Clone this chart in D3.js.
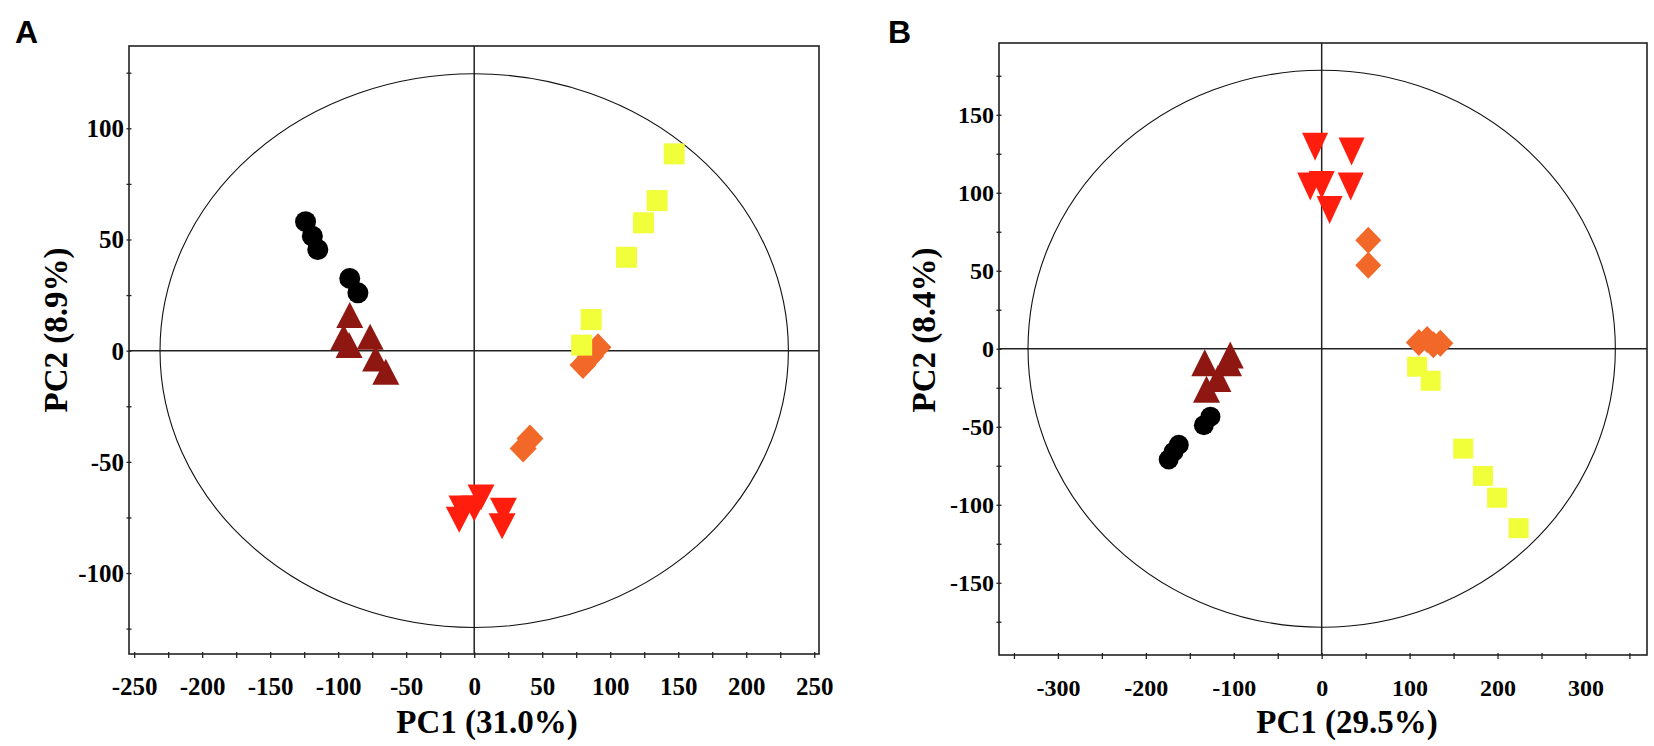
<!DOCTYPE html>
<html>
<head>
<meta charset="utf-8">
<script src="https://cdn.jsdelivr.net/npm/d3@7"></script>
<style>
  body { margin: 0; background: #fff; }
  text { font-family: "Liberation Serif", "Times New Roman", serif; font-weight: bold; }
</style>
</head>
<body>
<script>
// ---- panel A (PC1 31.0%, PC2 8.9%) ----
const circlesA = [[-124, 58], [-119, 51.5], [-115, 45.5], [-91.5, 32.5], [-85.5, 26]];
const upTriA = [[-91.5, 16], [-96, 6], [-92, 2.6], [-76.5, 6.3], [-72.5, -3.5], [-65, -9.5]];
const downTriA = [[-9, -71], [-11, -76], [0, -71], [5, -66], [21.5, -72], [20.5, -79]];
const diamondsA = [[91, 1.5], [85.5, -2.5], [80, -6.5], [41, -39.5], [36, -44]];
const squaresA = [[147, 88.5], [134.5, 67.5], [124.5, 57.5], [112, 42], [86, 14], [79, 2.5]];
const ellipseA = [231, 124.5];
const xMajorA = [-250, -200, -150, -100, -50, 0, 50, 100, 150, 200, 250];
const xMinorA = [-225, -175, -125, -75, -25, 25, 75, 125, 175, 225];
const yMajorA = [-100, -50, 0, 50, 100];
const yMinorA = [-125, -75, -25, 25, 75, 125];

// ---- panel B (PC1 29.5%, PC2 8.4%) ----
const circlesB = [[-126.5, -43.5], [-134, -49], [-162.5, -61.5], [-168.5, -66], [-174, -71]];
const upTriB = [[-133, -9], [-104, -4], [-106, -9], [-118, -19], [-131, -26]];
const downTriB = [[-7.5, 129.5], [34, 126.5], [-13, 104], [0, 105], [33, 104], [9, 89]];
const diamondsB = [[53, 69.5], [53, 53.5], [110.5, 4], [120, 6], [127, 2.5], [135, 3.5]];
const squaresB = [[108.5, -11.5], [124, -20.5], [161, -64], [183.5, -81.5], [199.5, -95.5], [224, -115]];
const ellipseB = [334, 178.5];
const xMajorB = [-300, -200, -100, 0, 100, 200, 300];
const xMinorB = [-350, -250, -150, -50, 50, 150, 250, 350];
const yMajorB = [-150, -100, -50, 0, 50, 100, 150];
const yMinorB = [-175, -125, -75, -25, 25, 75, 125, 175];

const colors = {
  circle: "#000000",
  up: "#8E1811",
  down: "#FF1E0E",
  diamond: "#F26828",
  square: "#F0FF3A"
};

const svg = d3.select("body").append("svg")
  .attr("width", 1654)
  .attr("height", 746);

const fmt = d => d < 0 ? "-" + Math.abs(d) : String(d);

// marker outlines, centred on the point
function markerPath(shape, w, h) {
  if (shape === "square") return `M${-w/2},${-h/2}h${w}v${h}h${-w}Z`;
  if (shape === "up") return `M0,${-h/2}L${w/2},${h/2}L${-w/2},${h/2}Z`;
  if (shape === "down") return `M0,${h/2}L${w/2},${-h/2}L${-w/2},${-h/2}Z`;
  if (shape === "diamond") return `M0,${-h/2}L${w/2},0L0,${h/2}L${-w/2},0Z`;
  return "";
}

function drawPanel(p) {
  let x = d3.scaleLinear().domain(p.xDomain).range([p.left, p.right]);
  let y = d3.scaleLinear().domain(p.yDomain).range([p.bottom, p.top]);
  let g = svg.append("g");

  // panel letter
  g.append("text")
    .attr("x", p.letterX)
    .attr("y", 43)
    .style("font-family", "'Liberation Sans', Arial, sans-serif")
    .style("font-size", "32px")
    .text(p.letter);

  // x axis
  let xAxis = d3.axisBottom(x)
    .tickValues(p.xMajor.concat(p.xMinor))
    .tickSize(3)
    .tickFormat(d => p.xMajor.includes(d) ? fmt(d) : "");
  let gx = g.append("g")
    .attr("transform", `translate(0,${p.bottom})`)
    .call(xAxis);
  gx.select(".domain").remove();
  gx.selectAll(".tick line").attr("y1", -2).attr("y2", 4).attr("stroke", "#222").attr("stroke-width", 1.3);
  gx.selectAll(".tick text")
    .attr("y", 41).attr("dy", 0)
    .attr("fill", "#000")
    .style("font-size", p.tickFont + "px");

  // y axis
  let yAxis = d3.axisLeft(y)
    .tickValues(p.yMajor.concat(p.yMinor))
    .tickSize(3)
    .tickFormat(d => p.yMajor.includes(d) ? fmt(d) : "");
  let gy = g.append("g")
    .attr("transform", `translate(${p.left},0)`)
    .call(yAxis);
  gy.select(".domain").remove();
  gy.selectAll(".tick line").attr("x1", -2.5).attr("x2", 2.5).attr("stroke", "#222").attr("stroke-width", 1.3);
  gy.selectAll(".tick text")
    .attr("x", -5).attr("dy", "0.34em")
    .attr("fill", "#000")
    .style("font-size", p.tickFont + "px");

  // frame
  g.append("rect")
    .attr("x", p.left)
    .attr("y", p.top)
    .attr("width", p.right - p.left)
    .attr("height", p.bottom - p.top)
    .attr("fill", "none")
    .attr("stroke", "#222")
    .attr("stroke-width", 1.6);

  // zero lines
  g.append("line")
    .attr("x1", x(0)).attr("x2", x(0))
    .attr("y1", p.top).attr("y2", p.bottom)
    .attr("stroke", "#222").attr("stroke-width", 1.5);
  g.append("line")
    .attr("x1", p.left).attr("x2", p.right)
    .attr("y1", y(0)).attr("y2", y(0))
    .attr("stroke", "#222").attr("stroke-width", 1.5);

  // Hotelling ellipse
  g.append("ellipse")
    .attr("cx", x(0))
    .attr("cy", y(0))
    .attr("rx", x(p.ellipse[0]) - x(0))
    .attr("ry", y(0) - y(p.ellipse[1]))
    .attr("fill", "none")
    .attr("stroke", "#111")
    .attr("stroke-width", 1.1);

  // scores
  p.series.forEach(s => {
    if (s.shape === "circle") {
      g.selectAll(null)
        .data(s.data)
        .enter()
        .append("circle")
        .attr("cx", d => x(d[0]))
        .attr("cy", d => y(d[1]))
        .attr("r", s.w / 2)
        .attr("fill", colors[s.shape]);
    } else {
      g.selectAll(null)
        .data(s.data)
        .enter()
        .append("path")
        .attr("transform", d => `translate(${x(d[0])},${y(d[1])})`)
        .attr("d", markerPath(s.shape, s.w, s.h))
        .attr("fill", colors[s.shape]);
    }
  });

  // axis titles
  g.append("text")
    .attr("x", p.xTitleX)
    .attr("y", 733)
    .attr("text-anchor", "middle")
    .style("font-size", "33px")
    .text(p.xTitle);
  g.append("text")
    .attr("transform", `translate(${p.yTitleX},330) rotate(-90)`)
    .attr("text-anchor", "middle")
    .style("font-size", "33px")
    .text(p.yTitle);
}

drawPanel({
  letter: "A", letterX: 15,
  left: 129, right: 819, top: 46, bottom: 654,
  xDomain: [-253.8, 253.5], yDomain: [-136.4, 137],
  xMajor: xMajorA, xMinor: xMinorA, yMajor: yMajorA, yMinor: yMinorA,
  tickFont: 25,
  ellipse: ellipseA,
  xTitle: "PC1 (31.0%)", xTitleX: 487,
  yTitle: "PC2 (8.9%)", yTitleX: 67,
  series: [
    {data: circlesA, shape: "circle", w: 21},
    {data: upTriA, shape: "up", w: 27, h: 26},
    {data: downTriA, shape: "down", w: 27, h: 26},
    {data: diamondsA, shape: "diamond", w: 27, h: 28},
    {data: squaresA, shape: "square", w: 21, h: 21}
  ]
});

drawPanel({
  letter: "B", letterX: 888,
  left: 999, right: 1647, top: 43, bottom: 655,
  xDomain: [-367, 370], yDomain: [-196.3, 196],
  xMajor: xMajorB, xMinor: xMinorB, yMajor: yMajorB, yMinor: yMinorB,
  tickFont: 24,
  ellipse: ellipseB,
  xTitle: "PC1 (29.5%)", xTitleX: 1347,
  yTitle: "PC2 (8.4%)", yTitleX: 935,
  series: [
    {data: circlesB, shape: "circle", w: 20},
    {data: upTriB, shape: "up", w: 27, h: 27},
    {data: downTriB, shape: "down", w: 26, h: 28},
    {data: diamondsB, shape: "diamond", w: 26, h: 27},
    {data: squaresB, shape: "square", w: 20, h: 20}
  ]
});
</script>
</body>
</html>
